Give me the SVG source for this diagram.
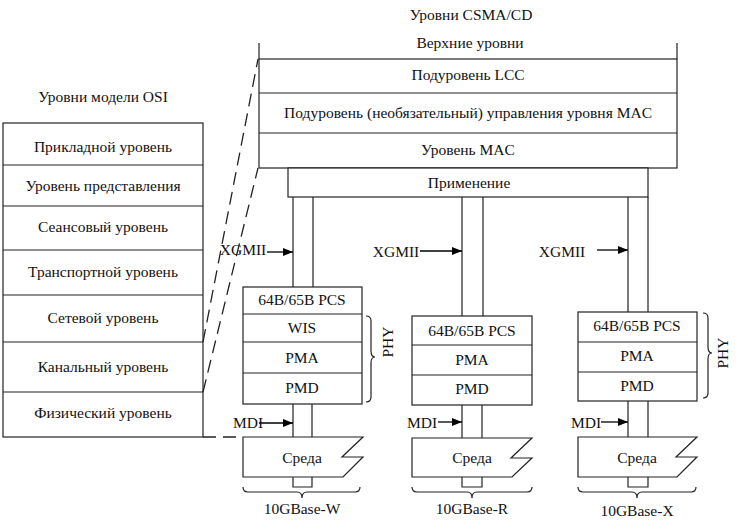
<svg xmlns="http://www.w3.org/2000/svg" width="737" height="530" viewBox="0 0 737 530" font-family="'Liberation Serif', 'DejaVu Serif', serif">
<defs>
<marker id="ah" viewBox="0 0 10 8" refX="10" refY="4" markerWidth="10" markerHeight="8" markerUnits="userSpaceOnUse" orient="auto">
<path d="M0,0 L10,4 L0,8 Z" fill="#000"/>
</marker>
</defs>
<style>
text{font-family:"Liberation Serif","DejaVu Serif",serif;font-size:15.5px;fill:#111;text-anchor:middle}
.b{fill:#fff;stroke:#222;stroke-width:1.2}
.l{fill:none;stroke:#222;stroke-width:1.2}
.d{fill:none;stroke:#222;stroke-width:1.3;stroke-dasharray:13,7}
.a{fill:none;stroke:#000;stroke-width:1.3}
</style>
<rect width="737" height="530" fill="#fff"/>

<g id="osi">
<text x="103" y="102">Уровни модели OSI</text>
<rect class="b" x="3" y="123" width="200" height="314"/>
<path class="l" d="M3,165H203M3,206H203M3,250H203M3,295H203M3,342H203M3,392H203"/>
<text x="103" y="152">Прикладной уровень</text>
<text x="103" y="191">Уровень представления</text>
<text x="103" y="232">Сеансовый уровень</text>
<text x="103" y="277">Транспортной уровень</text>
<text x="103" y="323">Сетевой уровень</text>
<text x="103" y="372">Канальный уровень</text>
<text x="103" y="418">Физический уровень</text>
</g>

<g id="csma">
<text x="471" y="20">Уровни CSMA/CD</text>
<text x="470" y="48">Верхние уровни</text>
<path class="l" d="M259,43V59M677,43V59"/>
<rect class="b" x="259" y="59" width="418" height="109"/>
<path class="l" d="M259,93H677M259,133H677"/>
<text x="468" y="80">Подуровень LCC</text>
<text x="468" y="118">Подуровень (необязательный) управления уровня MAC</text>
<text x="468" y="155">Уровень MAC</text>
</g>

<g id="app">
<rect class="b" x="288" y="168" width="360" height="29"/>
<text x="469" y="188">Применение</text>
</g>

<g id="connectors">
<path class="d" d="M203,342L258,59M203,392L258,168M203,437H243"/>
<path class="l" d="M293,197V287M313,197V287M462,197V316M483,197V316M628,197V312M648,197V312"/>
<path class="l" d="M293,404V437M312,404V437M462,405V438M482,405V438M628,401V437M648,401V437"/>
<path class="l" d="M293,477V487H312V477M462,477V487H482V477M628,477V487H648V477"/>
<line class="a" x1="267" y1="252" x2="293" y2="252" marker-end="url(#ah)"/>
<line class="a" x1="420" y1="251" x2="462" y2="251" marker-end="url(#ah)"/>
<line class="a" x1="597" y1="250" x2="628" y2="250" marker-end="url(#ah)"/>
<line class="a" x1="259" y1="423" x2="293" y2="423" marker-end="url(#ah)"/>
<line class="a" x1="438" y1="422" x2="462" y2="422" marker-end="url(#ah)"/>
<line class="a" x1="601" y1="422" x2="628" y2="422" marker-end="url(#ah)"/>
<text x="243" y="255">XGMII</text>
<text x="396" y="257">XGMII</text>
<text x="562" y="257">XGMII</text>
<text x="248" y="428">MDI</text>
<text x="422" y="428">MDI</text>
<text x="586" y="428">MDI</text>
</g>

<g id="phy-w">
<rect class="b" x="243" y="287" width="119" height="117"/>
<path class="l" d="M243,314H362M243,342H362M243,373H362"/>
<text x="302" y="305">64B/65B PCS</text>
<text x="302" y="333">WIS</text>
<text x="302" y="363">PMA</text>
<text x="302" y="393">PMD</text>
<path class="l" d="M366,316q5,0 5,5v30q0,6 4,6q-4,0 -4,6v34q0,5 -5,5"/>
<text transform="translate(393,342) rotate(-90)">PHY</text>
</g>
<g id="medium-w">
<path class="b" d="M243,437H363L342,457H363L343,477H243Z"/>
<text x="302" y="463">Среда</text>
<path class="l" d="M243,487q0,5 5,5h49q5,0 5,6q0,-6 5,-6h48q5,0 5,-5"/>
<text x="302" y="514">10GBase-W</text>
</g>

<g id="phy-r">
<rect class="b" x="412" y="316" width="120" height="89"/>
<path class="l" d="M412,345H532M412,375H532"/>
<text x="472" y="336">64B/65B PCS</text>
<text x="472" y="365">PMA</text>
<text x="472" y="394">PMD</text>
</g>
<g id="medium-r">
<path class="b" d="M412,438H532L511,458H532L512,477H412Z"/>
<text x="472" y="463">Среда</text>
<path class="l" d="M412,487q0,5 5,5h50q5,0 5,6q0,-6 5,-6h50q5,0 5,-5"/>
<text x="472" y="514">10GBase-R</text>
</g>

<g id="phy-x">
<rect class="b" x="578" y="312" width="119" height="89"/>
<path class="l" d="M578,342H697M578,372H697"/>
<text x="637" y="331">64B/65B PCS</text>
<text x="637" y="361">PMA</text>
<text x="637" y="391">PMD</text>
<path class="l" d="M703,313q5,0 5,5v29q0,6 4,6q-4,0 -4,6v34q0,5 -5,5"/>
<text transform="translate(728,353) rotate(-90)">PHY</text>
</g>
<g id="medium-x">
<path class="b" d="M578,437H697L676,457H697L677,477H578Z"/>
<text x="637" y="463">Среда</text>
<path class="l" d="M578,487q0,5 5,5h49q5,0 5,6q0,-6 5,-6h49q5,0 5,-5"/>
<text x="637" y="516">10GBase-X</text>
</g>
</svg>
